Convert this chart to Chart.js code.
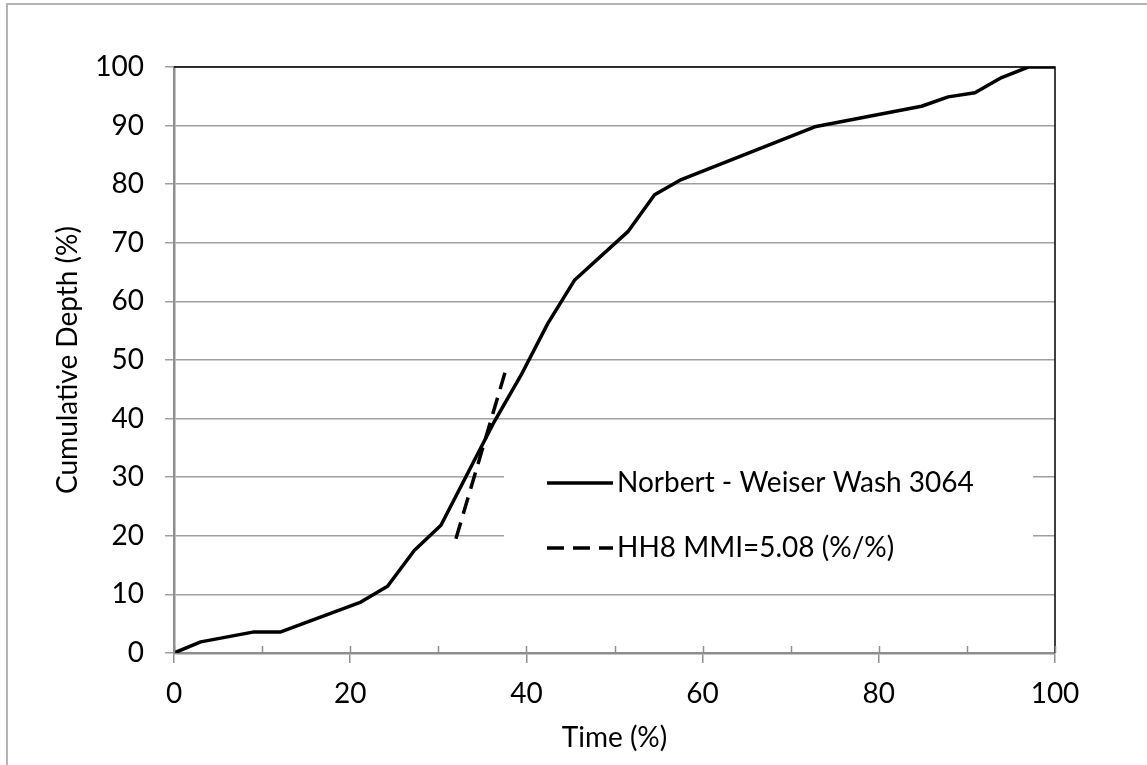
<!DOCTYPE html>
<html>
<head>
<meta charset="utf-8">
<title>Cumulative Depth</title>
<script src="https://cdn.jsdelivr.net/npm/chart.js@4.4.1/dist/chart.umd.min.js"></script>
<style>
  html, body { margin: 0; padding: 0; background: #fff; overflow: hidden; }
  #wrap { position: relative; width: 1147px; height: 765px; }
  #frame {
    position: absolute; left: 6px; top: 3px; width: 1300px; height: 900px;
    border: 2px solid #b4b4b4; box-sizing: border-box; pointer-events: none;
  }
</style>
</head>
<body>
<div id="wrap">
  <canvas id="depthChart" width="1147" height="765"></canvas>
  <div id="frame"></div>
</div>
<script>
// storm mass curve, time and depth both in percent of total
const timePct  = [0, 3.03, 9.09, 12.12, 21.21, 24.24, 27.27, 30.30, 36.36, 39.39, 42.42,
                  45.45, 51.52, 54.55, 57.58, 72.73, 84.85, 87.88, 90.91, 93.94, 96.97, 100];
const depthPct = [0, 1.9, 3.6, 3.6, 8.7, 11.4, 17.5, 21.8, 39.5, 47.4, 56.2,
                  63.6, 71.9, 78.2, 80.8, 89.8, 93.3, 94.9, 95.6, 98.2, 100, 100];

// maximum mean intensity segment
const hhTime  = [32.0, 37.6];
const hhDepth = [19.5, 48.0];

const seriesNames = ['Norbert - Weiser Wash 3064', 'HH8 MMI=5.08 (%/%)'];
const xTickValues = [0, 20, 40, 60, 80, 100];
const yTickValues = [0, 10, 20, 30, 40, 50, 60, 70, 80, 90, 100];

const FONT = 'Lato, "Open Sans", sans-serif';
const GRID = '#a0a0a0';
const AXIS = '#8e8e8e';

function pairs(xs, ys) {
    return xs.map((x, i) => ({ x: x, y: ys[i] }));
}

// white legend panel, black plot edges, inner ticks on the time axis
const plotExtras = {
    id: 'plotExtras',
    beforeDatasetsDraw(chart) {
        const { ctx, chartArea: a } = chart;
        ctx.save();
        ctx.fillStyle = '#fff';
        ctx.fillRect(a.left + 330, a.top + 373, 529, 140);
        ctx.restore();
    },
    afterDraw(chart) {
        const { ctx, chartArea: a, scales } = chart;
        ctx.save();

        ctx.strokeStyle = '#000';
        ctx.lineWidth = 1.5;
        ctx.beginPath();
        ctx.moveTo(a.left, a.top);
        ctx.lineTo(a.right, a.top);
        ctx.lineTo(a.right, a.bottom);
        ctx.stroke();

        ctx.strokeStyle = AXIS;
        ctx.lineWidth = 1.5;
        for (let v = 0; v <= 100; v += 10) {
            const px = Math.round(scales.x.getPixelForValue(v)) + 0.5;
            ctx.beginPath();
            ctx.moveTo(px, a.bottom - 7);
            ctx.lineTo(px, a.bottom);
            ctx.stroke();
        }

        // legend entries
        const rows = [a.top + 416, a.top + 481];
        chart.data.datasets.forEach((ds, i) => {
            const y = rows[i];
            ctx.strokeStyle = ds.borderColor;
            ctx.lineWidth = ds.borderWidth;
            ctx.setLineDash(ds.borderDash || []);
            ctx.beginPath();
            ctx.moveTo(a.left + 373, y);
            ctx.lineTo(a.left + 439, y);
            ctx.stroke();
            ctx.setLineDash([]);
            ctx.fillStyle = '#000';
            ctx.font = '28px ' + FONT;
            ctx.textAlign = 'left';
            ctx.textBaseline = 'middle';
            ctx.fillText(ds.label, a.left + 443, y);
        });
        ctx.restore();
    }
};

const ctx = document.getElementById('depthChart').getContext('2d');
new Chart(ctx, {
    type: 'line',
    data: {
        datasets: [
            {
                label: seriesNames[0],
                data: pairs(timePct, depthPct),
                borderColor: '#000',
                borderWidth: 3.5,
                pointRadius: 0,
                tension: 0,
                borderJoinStyle: 'round'
            },
            {
                label: seriesNames[1],
                data: pairs(hhTime, hhDepth),
                borderColor: '#000',
                borderWidth: 3.5,
                borderDash: [17, 9],
                pointRadius: 0,
                tension: 0
            }
        ]
    },
    options: {
        responsive: false,
        animation: false,
        devicePixelRatio: 1,
        layout: { padding: { left: 0, top: 67, right: 92, bottom: 0 } },
        plugins: {
            legend: { display: false },
            tooltip: { enabled: false }
        },
        scales: {
            x: {
                type: 'linear',
                min: 0,
                max: 100,
                afterBuildTicks: scale => { scale.ticks = xTickValues.map(v => ({ value: v })); },
                afterFit: scale => { scale.height = 112; },
                ticks: {
                    color: '#000',
                    font: { family: FONT, size: 28 },
                    padding: 14,
                    maxRotation: 0
                },
                grid: {
                    drawOnChartArea: false,
                    tickLength: 10,
                    color: AXIS,
                    lineWidth: 1.5
                },
                border: { color: AXIS, width: 2.5 },
                title: {
                    display: true,
                    text: 'Time (%)',
                    color: '#000',
                    font: { family: FONT, size: 28 },
                    padding: { top: 0, bottom: 10 }
                }
            },
            y: {
                type: 'linear',
                min: 0,
                max: 100,
                afterBuildTicks: scale => { scale.ticks = yTickValues.map(v => ({ value: v })); },
                afterFit: scale => { scale.width = 174; },
                ticks: {
                    color: '#000',
                    font: { family: FONT, size: 28 },
                    padding: 21
                },
                grid: {
                    color: GRID,
                    lineWidth: 1.5,
                    tickLength: 9
                },
                border: { color: AXIS, width: 2.5 },
                title: {
                    display: true,
                    text: 'Cumulative Depth (%)',
                    color: '#000',
                    font: { family: FONT, size: 28 },
                    padding: { top: 51, bottom: 0 }
                }
            }
        }
    },
    plugins: [plotExtras]
});
</script>
</body>
</html>
